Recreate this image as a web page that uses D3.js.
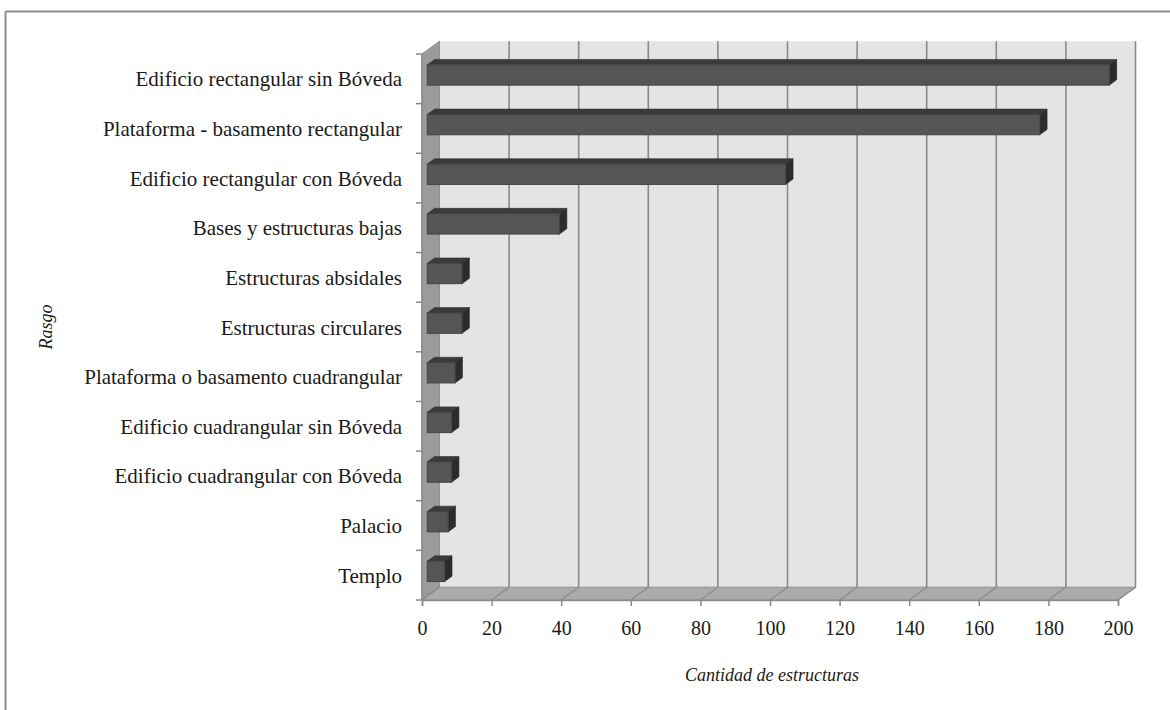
<!DOCTYPE html>
<html>
<head>
<meta charset="utf-8">
<script src="https://cdn.jsdelivr.net/npm/d3@7"></script>
<style>
  html, body { margin: 0; padding: 0; background: #fff; }
  svg { display: block; }
  text { font-family: "Liberation Serif", "Times New Roman", serif; fill: #1a1a1a; }
</style>
</head>
<body>
<svg id="chart" width="1170" height="710"></svg>
<script>
const categories = [
  "Edificio rectangular sin Bóveda",
  "Plataforma - basamento rectangular",
  "Edificio rectangular con Bóveda",
  "Bases y estructuras bajas",
  "Estructuras absidales",
  "Estructuras circulares",
  "Plataforma o basamento cuadrangular",
  "Edificio cuadrangular sin Bóveda",
  "Edificio cuadrangular con Bóveda",
  "Palacio",
  "Templo"
];
const values = [196, 176, 103, 38, 10, 10, 8, 7, 7, 6, 5];
const xTicks = [0, 20, 40, 60, 80, 100, 120, 140, 160, 180, 200];
const xTitle = "Cantidad de estructuras";
const yTitle = "Rasgo";

const svg = d3.select("#chart");

// frame (cropped box: top and left edges visible)
svg.append("line").attr("x1", 5.5).attr("y1", 11.5).attr("x2", 1170).attr("y2", 11.5)
  .attr("stroke", "#8c8c8c").attr("stroke-width", 2);
svg.append("line").attr("x1", 5.5).attr("y1", 11.5).attr("x2", 5.5).attr("y2", 710)
  .attr("stroke", "#8c8c8c").attr("stroke-width", 2);

// front-plane scales
const x = d3.scaleLinear().domain([0, 200]).range([422, 1118]);
const y = d3.scaleBand().domain(categories).range([54, 600]).padding(0);

// 3D depth vector (full depth of the chart box)
const DX = 17.5, DY = -12.8;
const x0 = x(0), x1 = x(200), yTop = y.range()[0], yBot = y.range()[1];

const pts = a => a.map(p => p.join(",")).join(" ");

// back wall
svg.append("polygon")
  .attr("points", pts([[x0 + DX, yTop + DY], [x1 + DX, yTop + DY], [x1 + DX, yBot + DY], [x0 + DX, yBot + DY]]))
  .attr("fill", "#e4e4e4");
// left wall
svg.append("polygon")
  .attr("points", pts([[x0, yTop], [x0 + DX, yTop + DY], [x0 + DX, yBot + DY], [x0, yBot]]))
  .attr("fill", "#9b9b9b").attr("stroke", "#8a8a8a").attr("stroke-width", 1);
// floor
svg.append("polygon")
  .attr("points", pts([[x0, yBot], [x0 + DX, yBot + DY], [x1 + DX, yBot + DY], [x1, yBot]]))
  .attr("fill", "#ababab").attr("stroke", "#8f8f8f").attr("stroke-width", 1);

// gridlines: back wall verticals + floor diagonals
const grid = svg.append("g");
xTicks.forEach(t => {
  const gx = x(t);
  if (t > 0) {
    grid.append("line")
      .attr("x1", gx + DX).attr("y1", yTop + DY).attr("x2", gx + DX).attr("y2", yBot + DY)
      .attr("stroke", "#8a8a8a").attr("stroke-width", 1.6);
  }
  grid.append("line")
    .attr("x1", gx).attr("y1", yBot).attr("x2", gx + DX).attr("y2", yBot + DY)
    .attr("stroke", "#8a8a8a").attr("stroke-width", 1.3);
});
grid.append("line").attr("x1", x0 + DX).attr("y1", yTop + DY).attr("x2", x0 + DX).attr("y2", yBot + DY)
  .attr("stroke", "#8f8f8f").attr("stroke-width", 1);

// axes (front plane)
const xAxis = d3.axisBottom(x).tickValues(xTicks).tickSize(6).tickPadding(10);
const gx = svg.append("g").attr("transform", `translate(0,${yBot})`).call(xAxis);
gx.select(".domain").attr("stroke", "#8a8a8a").attr("stroke-width", 1.5);
gx.selectAll(".tick line").attr("stroke", "#8a8a8a").attr("stroke-width", 1.5);
gx.selectAll(".tick text").attr("font-size", "20px").attr("font-family", "Liberation Serif, serif")
  .attr("fill", "#1a1a1a").attr("dy", "0.95em");

const gy = svg.append("g").attr("transform", `translate(${x0},0)`);
gy.append("line").attr("x1", 0).attr("x2", 0).attr("y1", yTop).attr("y2", yBot)
  .attr("stroke", "#8a8a8a").attr("stroke-width", 1.5);
const boundaries = categories.map(c => y(c)).concat([yBot]);
gy.selectAll("line.tk").data(boundaries).join("line").attr("class", "tk")
  .attr("x1", -6).attr("x2", 0).attr("y1", d => d).attr("y2", d => d)
  .attr("stroke", "#8a8a8a").attr("stroke-width", 1.5);
gy.selectAll("text.lbl").data(categories).join("text").attr("class", "lbl")
  .attr("x", -20).attr("y", d => y(d) + y.bandwidth() / 2)
  .attr("dy", "0.36em").attr("text-anchor", "end").attr("font-size", "21px")
  .text(d => d);

// bars (3D boxes)
const bandFrac = 0.41;
const dFront = 0.30, dDepth = 0.42;
const fdx = DX * dFront, fdy = DY * dFront;
const bdx = DX * dDepth, bdy = DY * dDepth;
const bars = svg.append("g");
categories.forEach((c, i) => {
  const v = values[i];
  const h = y.bandwidth() * bandFrac;
  const cy = y(c) + y.bandwidth() / 2;
  const L = x(0) + fdx, R = x(v) + fdx;
  const T = cy - h / 2 + fdy, B = cy + h / 2 + fdy;
  const g = bars.append("g");
  g.append("polygon")
    .attr("points", pts([[L, T], [L + bdx, T + bdy], [R + bdx, T + bdy], [R, T]]))
    .attr("fill", "#3a3a3a").attr("stroke", "#333").attr("stroke-width", 0.6);
  g.append("polygon")
    .attr("points", pts([[R, T], [R + bdx, T + bdy], [R + bdx, B + bdy], [R, B]]))
    .attr("fill", "#2c2c2c").attr("stroke", "#2a2a2a").attr("stroke-width", 0.6);
  g.append("rect")
    .attr("x", L).attr("y", T).attr("width", R - L).attr("height", B - T)
    .attr("fill", "#555555").attr("stroke", "#444").attr("stroke-width", 1);
});

// titles
svg.append("text").attr("x", 772).attr("y", 681).attr("text-anchor", "middle")
  .attr("font-style", "italic").attr("font-size", "18px").text(xTitle);
svg.append("text").attr("transform", "translate(52,327) rotate(-90)").attr("text-anchor", "middle")
  .attr("font-style", "italic").attr("font-size", "18px").text(yTitle);
</script>
</body>
</html>
